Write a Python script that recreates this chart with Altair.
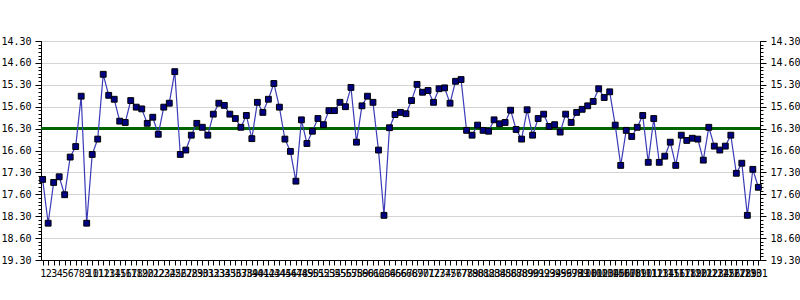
import altair as alt
import pandas as pd

# ---- data ----
sample_no = list(range(1, 132))
values = [
    17.46, 18.46, 17.53, 17.40, 17.81, 16.95, 16.71, 15.56, 18.46, 16.89,
    16.54, 15.06, 15.54, 15.63, 16.13, 16.16, 15.66, 15.81, 15.85, 16.18,
    16.04, 16.43, 15.81, 15.72, 15.00, 16.89, 16.79, 16.45, 16.18, 16.27,
    16.45, 15.97, 15.72, 15.77, 15.97, 16.07, 16.27, 16.00, 16.53, 15.70,
    15.93, 15.63, 15.27, 15.81, 16.54, 16.82, 17.50, 16.10, 16.64, 16.36,
    16.07, 16.21, 15.89, 15.89, 15.70, 15.80, 15.36, 16.61, 15.78, 15.56,
    15.70, 16.79, 18.28, 16.28, 15.98, 15.93, 15.96, 15.66, 15.29, 15.47,
    15.43, 15.70, 15.39, 15.37, 15.72, 15.22, 15.18, 16.34, 16.45, 16.22,
    16.34, 16.36, 16.10, 16.19, 16.16, 15.88, 16.32, 16.54, 15.87, 16.45,
    16.07, 15.97, 16.25, 16.21, 16.38, 15.97, 16.16, 15.93, 15.86, 15.78,
    15.68, 15.39, 15.59, 15.46, 16.22, 17.14, 16.34, 16.48, 16.27, 16.00,
    17.07, 16.07, 17.07, 16.93, 16.61, 17.14, 16.45, 16.57, 16.52, 16.54,
    17.02, 16.27, 16.70, 16.79, 16.70, 16.45, 17.32, 17.09, 18.28, 17.23,
    17.64,
]
y_tick_labels = ["14.30", "14.60", "15.30", "15.60", "16.30", "16.60",
                 "17.30", "17.60", "18.30", "18.60", "19.30"]
center_value = 16.30
y_min, y_max = 14.3, 19.3
y_step = 0.5

df = pd.DataFrame({"n": sample_no, "v": values})

major = [round(y_min + y_step * i, 4) for i in range(len(y_tick_labels))]
minor = [round(y_min + y_step * i / 6, 5) for i in range(6 * (len(y_tick_labels) - 1) + 1)]

label_expr = ("[" + ",".join(f"'{s}'" for s in y_tick_labels) + "]"
              f"[round((datum.value - {y_min}) / {y_step})]")

FONT = "DejaVu Sans Mono"

yscale = alt.Scale(domain=[y_min, y_max], reverse=True, nice=False, zero=False)

x_axis = alt.Axis(title=None, labelAngle=0, labelOverlap=False, labelFont=FONT,
                  labelFontSize=10, labelColor="black", tickColor="black",
                  domainColor="black", tickSize=5, labelPadding=3, grid=False,
                  labelFlush=False)
x_enc = alt.X("n:O", scale=alt.Scale(type="point", padding=0.3), axis=x_axis)


def major_axis(orient, grid):
    return alt.Axis(orient=orient, values=major, labelExpr=label_expr, tickSize=6,
                    labelPadding=4, grid=grid, gridColor="#d4d4d4", title=None,
                    labelFont=FONT, labelFontSize=10, labelColor="black",
                    domainColor="black", tickColor="black")


def minor_axis(orient):
    return alt.Axis(orient=orient, values=minor, labels=False, tickSize=3,
                    grid=False, domain=False, title=None, tickColor="black")


base = alt.Chart(df)

center = base.mark_rule(color="#006400", strokeWidth=2).encode(
    y=alt.YDatum(center_value, type="quantitative", scale=yscale,
                 axis=major_axis("left", True)),
)

line = base.mark_line(color="#3b3bb8", strokeWidth=1.2).encode(
    x=x_enc,
    y=alt.Y("v:Q", scale=yscale, axis=minor_axis("left")),
)

points = base.mark_square(size=34, filled=True, color="#000080",
                          stroke="black", strokeWidth=1, opacity=1).encode(
    x=x_enc,
    y=alt.Y("v:Q", scale=yscale, axis=major_axis("right", False)),
)

ghost = base.mark_line(opacity=0).encode(
    x=x_enc,
    y=alt.Y("v:Q", scale=yscale, axis=minor_axis("right")),
)

chart = alt.layer(center, line, points, ghost).resolve_axis(
    y="independent"
).properties(
    width=719, height=219,
    padding={"left": 41, "top": 41, "right": 40, "bottom": 40},
    autosize=alt.AutoSizeParams(type="none"),
    background="white",
).configure_view(stroke="black", strokeWidth=1)

chart.save("out.html", embed_options={"renderer": "svg", "actions": False})
